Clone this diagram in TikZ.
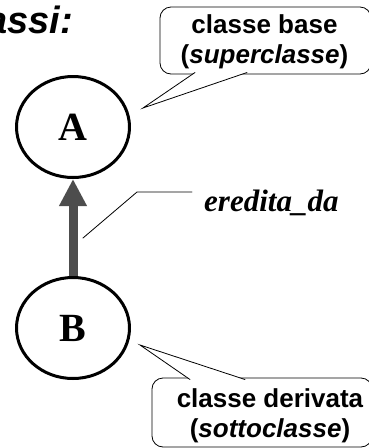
\documentclass[tikz,border=0pt]{standalone}
\usepackage{fontspec}
\setmainfont{Liberation Serif}
\setsansfont{Liberation Sans}
\usetikzlibrary{arrows.meta,shapes.geometric,calc}
\definecolor{arrowgray}{RGB}{77,77,77}
\tikzset{
  classnode/.style={draw, ellipse, line width=3pt, minimum width=113pt, minimum height=101pt, inner sep=0pt, font=\fontsize{40}{48}\selectfont\bfseries},
  callbox/.style={draw, rounded corners=11pt, line width=0.8pt, inner sep=0pt, outer sep=0pt},
  calltext/.style={inner sep=0pt, align=center, font=\fontsize{26}{30}\selectfont\sffamily\bfseries},
  calltail/.style={draw, fill=white, line width=0.8pt, line join=miter},
}
\begin{document}
\begin{tikzpicture}[line cap=round,line join=round,>={Triangle[width=26pt,length=27pt]},x=1pt,y=-1pt]
        \useasboundingbox (0,0) rectangle (369,448);
        \clip (0,0) rectangle (369,448);
        \node[anchor=base west, inner sep=0pt, font=\fontsize{38}{44}\selectfont\sffamily\bfseries\itshape] (titolo) at (-14,33) {assi:};
        \node[classnode] (A) at (73,127) {A};
        \node[classnode] (B) at (73,328) {B};
        \draw[->, line width=9pt, color=arrowgray, line cap=butt] (B) -- (A);
        % etichetta della freccia
        \node[anchor=base west, inner sep=0pt, font=\fontsize{31}{36}\selectfont\bfseries\itshape] (eredita) at (204,211) {eredita\_da};
        \coordinate (t1) at (83,238);
        \coordinate (t2) at (137,192);
        \draw[line width=0.8pt, shorten >=12pt] (t1) -- (t2) -- (eredita.west |- t2);
        % fumetti
        \node[callbox, minimum width=211pt, minimum height=67pt] (base) at (265.5,40.5) {};
        \coordinate (p1) at (143,108);
        \draw[calltail] ($(base.south west)+(35,-1.5)$) -- (p1) -- ($(base.south west)+(87,-1.5)$);
        \node[calltext] (basetxt) at (264.5,42) {classe base\\(\textit{superclasse})};
        \node[callbox, minimum width=220pt, minimum height=69pt] (derivata) at (262,412.5) {};
        \coordinate (p2) at (140,345);
        \draw[calltail] ($(derivata.north west)+(38,1.5)$) -- (p2) -- ($(derivata.north west)+(93,1.5)$);
        \node[calltext] (derivatatxt) at (270,416) {classe derivata\\(\textit{sottoclasse})};
    \end{tikzpicture}
\end{document}
